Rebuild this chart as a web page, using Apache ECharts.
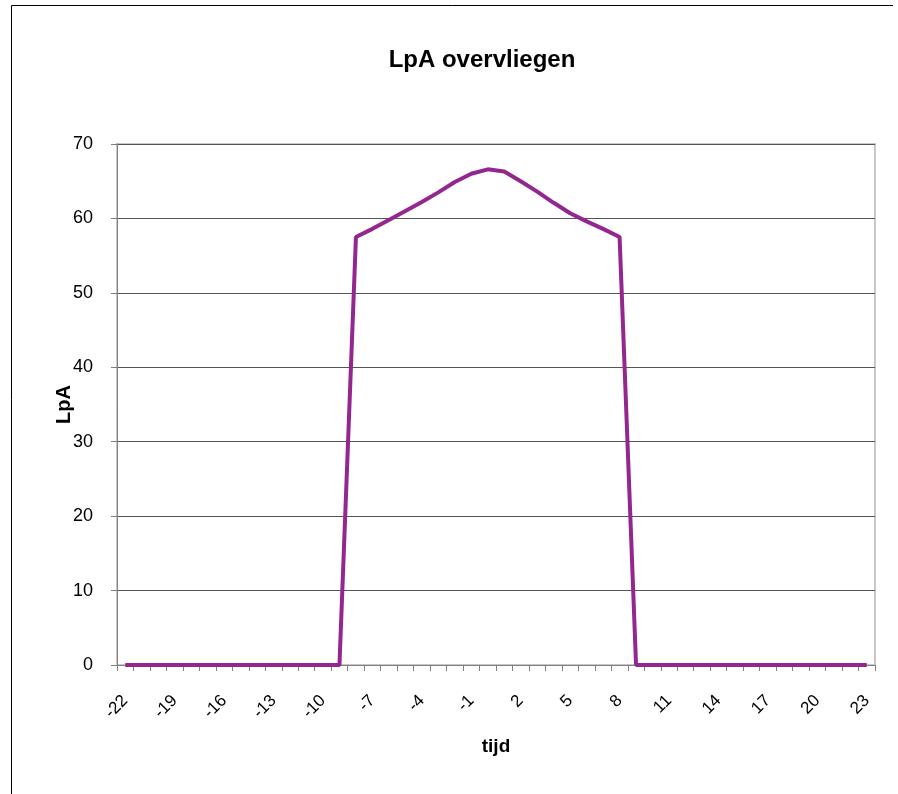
<!DOCTYPE html>
<html>
<head>
<meta charset="utf-8">
<script src="https://cdn.jsdelivr.net/npm/echarts@6/dist/echarts.min.js"></script>
<style>
  html, body { margin: 0; padding: 0; background: #fff; }
  #chart { width: 898px; height: 794px; }
</style>
</head>
<body>
<div id="chart"></div>
<script>
// tijd (s) van -22 t/m 23
const tijd = [-22, -21, -20, -19, -18, -17, -16, -15, -14, -13, -12, -11, -10, -9,
  -8, -7, -6, -5, -4, -3, -2, -1, 0, 1, 2, 3, 4, 5, 6, 7, 8,
  9, 10, 11, 12, 13, 14, 15, 16, 17, 18, 19, 20, 21, 22, 23];
// LpA waarden
const lpa = [0, 0, 0, 0, 0, 0, 0, 0, 0, 0, 0, 0, 0, 0,
  57.5, 58.6, 59.8, 61.0, 62.2, 63.5, 64.9, 66.0, 66.6, 66.3, 65.0, 63.6, 62.1, 60.7, 59.6, 58.6, 57.5,
  0, 0, 0, 0, 0, 0, 0, 0, 0, 0, 0, 0, 0, 0, 0];
const yTicks = { min: 0, max: 70, step: 10 };

const chart = echarts.init(document.getElementById('chart'));
const font = 'Liberation Sans, Arial, sans-serif';

const option = {
  animation: false,
  backgroundColor: '#fff',
  textStyle: { fontFamily: font },
  title: {
    text: 'LpA overvliegen',
    left: 477,
    textAlign: 'center',
    top: 43,
    textStyle: { fontSize: 24, fontWeight: 'bold', color: '#000', fontFamily: font }
  },
  graphic: [
    { type: 'line', shape: { x1: 11.5, y1: 5.5, x2: 893, y2: 5.5 }, style: { stroke: '#000', lineWidth: 1 } },
    { type: 'line', shape: { x1: 11.5, y1: 5.5, x2: 11.5, y2: 794 }, style: { stroke: '#000', lineWidth: 1 } }
  ],
  grid: {
    left: 117, right: 23, top: 144, bottom: 129,
    show: true, borderColor: '#c8c8c8', borderWidth: 2
  },
  xAxis: {
    type: 'category',
    data: tijd,
    boundaryGap: true,
    name: 'tijd',
    nameLocation: 'middle',
    nameGap: 72,
    nameTextStyle: { fontSize: 19, fontWeight: 'bold', color: '#000', fontFamily: font },
    axisLine: { lineStyle: { color: '#808080', width: 1 } },
    axisTick: { show: true, interval: 0, length: 6, lineStyle: { color: '#808080' } },
    axisLabel: { interval: 2, rotate: 45, fontSize: 17, color: '#000', margin: 33, fontFamily: font },
    splitLine: { show: false }
  },
  yAxis: {
    type: 'value',
    min: yTicks.min,
    max: yTicks.max,
    interval: yTicks.step,
    name: 'LpA',
    nameLocation: 'middle',
    nameRotate: 90,
    nameGap: 43,
    nameMoveOverlap: false,
    nameTextStyle: { fontSize: 20, fontWeight: 'bold', color: '#000', fontFamily: font },
    axisLine: { show: true, lineStyle: { color: '#808080', width: 1 } },
    axisTick: { show: true, length: 6, lineStyle: { color: '#808080' } },
    axisLabel: { fontSize: 18, color: '#000', margin: 24, fontFamily: font },
    splitLine: { show: true, lineStyle: { color: '#555', width: 1 } }
  },
  series: [{
    type: 'line',
    data: lpa,
    symbol: 'none',
    lineStyle: { color: '#93278f', width: 4 },
    itemStyle: { color: '#93278f' }
  }]
};
chart.setOption(option);
</script>
</body>
</html>
